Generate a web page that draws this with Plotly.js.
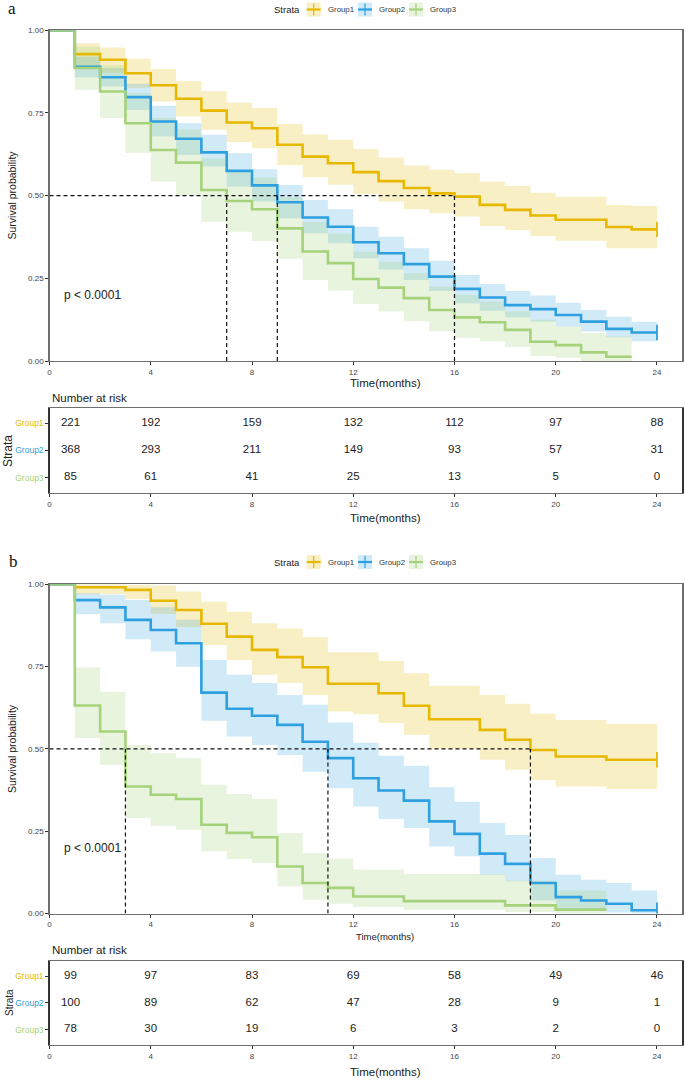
<!DOCTYPE html>
<html>
<head>
<meta charset="utf-8">
<script src="https://cdn.plot.ly/plotly-3.0.1.min.js"></script>
<style>html,body{margin:0;padding:0;background:#fff;}#chart{width:685px;height:1080px;}</style>
</head>
<body>
<div id="chart"></div>
<script>
// ---------------- DATA ----------------
const groups = ["Group1", "Group2", "Group3"];
const months24 = [0,1,2,3,4,5,6,7,8,9,10,11,12,13,14,15,16,17,18,19,20,21,22,23,24];

// Panel a
const survA1 = [1,0.928,0.911,0.870,0.834,0.793,0.757,0.721,0.704,0.654,0.618,0.598,0.571,0.544,0.523,0.507,0.497,0.472,0.457,0.440,0.427,0.427,0.405,0.398,0.398];
const upA1   = [1,0.961,0.948,0.914,0.883,0.847,0.816,0.782,0.765,0.717,0.685,0.669,0.641,0.615,0.591,0.578,0.568,0.543,0.529,0.509,0.497,0.497,0.472,0.469,0.469];
const loA1   = [1,0.891,0.872,0.826,0.785,0.739,0.699,0.662,0.643,0.593,0.556,0.533,0.505,0.482,0.459,0.447,0.437,0.408,0.396,0.378,0.364,0.364,0.341,0.341,0.341];
const survA2 = [1,0.890,0.858,0.798,0.724,0.672,0.631,0.575,0.531,0.480,0.434,0.406,0.359,0.326,0.293,0.255,0.218,0.192,0.169,0.157,0.139,0.119,0.097,0.086,0.086];
const upA2   = [1,0.920,0.886,0.838,0.772,0.719,0.684,0.628,0.580,0.532,0.487,0.459,0.406,0.376,0.341,0.303,0.260,0.233,0.212,0.198,0.176,0.154,0.134,0.119,0.119];
const loA2   = [1,0.858,0.830,0.759,0.679,0.623,0.588,0.527,0.482,0.432,0.386,0.356,0.311,0.277,0.245,0.212,0.175,0.152,0.132,0.119,0.104,0.089,0.072,0.060,0.060];
const survA3 = [1,0.886,0.815,0.719,0.638,0.600,0.517,0.484,0.459,0.401,0.331,0.296,0.248,0.222,0.190,0.154,0.132,0.117,0.094,0.058,0.048,0.026,0.013,0.013];
const upA3   = [1,0.950,0.895,0.810,0.735,0.700,0.612,0.577,0.555,0.495,0.420,0.385,0.330,0.300,0.265,0.225,0.200,0.180,0.150,0.125,0.104,0.085,0.074,0.074];
const loA3   = [1,0.820,0.735,0.630,0.543,0.500,0.421,0.391,0.363,0.309,0.245,0.213,0.172,0.150,0.120,0.090,0.070,0.060,0.042,0.015,0.010,0,0,0];
const mediansA = [16, 9, 7];

// Panel b
const survB1 = [1,0.991,0.991,0.983,0.950,0.922,0.880,0.841,0.801,0.779,0.748,0.698,0.698,0.669,0.631,0.590,0.590,0.558,0.528,0.497,0.477,0.477,0.467,0.467,0.467];
const upB1   = [1,1.000,1.000,0.998,0.996,0.978,0.947,0.917,0.882,0.866,0.839,0.794,0.794,0.767,0.730,0.692,0.692,0.664,0.637,0.607,0.588,0.588,0.576,0.576,0.576];
const loB1   = [1,0.970,0.970,0.955,0.910,0.870,0.816,0.770,0.725,0.700,0.664,0.614,0.605,0.579,0.543,0.500,0.500,0.467,0.437,0.406,0.386,0.386,0.378,0.378,0.378];
const survB2 = [1,0.952,0.930,0.892,0.861,0.821,0.671,0.622,0.601,0.573,0.522,0.472,0.411,0.374,0.343,0.280,0.242,0.182,0.151,0.093,0.050,0.040,0.030,0.010,0.010];
const upB2   = [1,0.973,0.968,0.952,0.930,0.892,0.770,0.725,0.700,0.664,0.634,0.580,0.519,0.479,0.449,0.384,0.340,0.275,0.239,0.169,0.118,0.103,0.093,0.070,0.070];
const loB2   = [1,0.909,0.882,0.833,0.796,0.750,0.586,0.538,0.512,0.482,0.431,0.381,0.325,0.287,0.260,0.204,0.174,0.118,0.098,0.040,0.015,0.008,0.003,0,0];
const survB3 = [1,0.632,0.553,0.386,0.361,0.348,0.270,0.245,0.232,0.143,0.093,0.078,0.052,0.052,0.038,0.038,0.038,0.038,0.025,0.025,0.012,0.012,0.012];
const upB3   = [1,0.747,0.674,0.512,0.487,0.472,0.391,0.363,0.348,0.245,0.184,0.166,0.133,0.133,0.120,0.120,0.120,0.120,0.100,0.100,0.070,0.070,0.070];
const loB3   = [1,0.533,0.452,0.290,0.267,0.255,0.189,0.166,0.154,0.083,0.042,0.030,0.020,0.020,0.012,0.012,0.012,0.012,0.005,0.005,0,0,0];
const mediansB = [19, 11, 3];

// Risk tables
const riskTimes = [0, 4, 8, 12, 16, 20, 24];
const riskA1 = [221, 192, 159, 132, 112, 97, 88];
const riskA2 = [368, 293, 211, 149, 93, 57, 31];
const riskA3 = [85, 61, 41, 25, 13, 5, 0];
const riskB1 = [99, 97, 83, 69, 58, 49, 46];
const riskB2 = [100, 89, 62, 47, 28, 9, 1];
const riskB3 = [78, 30, 19, 6, 3, 2, 0];

const xTicks = [0, 4, 8, 12, 16, 20, 24];
const yTicks = [0, 0.25, 0.5, 0.75, 1];
const yTickText = ["0.00", "0.25", "0.50", "0.75", "1.00"];
const pText = "p < 0.0001";

// ---------------- STYLE ----------------
const W = 685, H = 1080;
const COLORS = ["#E7B800", "#2E9FDF", "#A5D27A"];
const FILLS = ["rgba(231,184,0,0.23)", "rgba(46,159,223,0.22)", "rgba(165,210,122,0.25)"];
const FONT = "Liberation Sans, Arial, sans-serif";
const px = v => v / W;
const py = v => 1 - v / H;

const xDom = [px(49.5), px(682.3)];
const panels = [
  {xa: "x", ya: "y", surv: [survA1, survA2, survA3], up: [upA1, upA2, upA3], lo: [loA1, loA2, loA3], med: mediansA,
   risk: [riskA1, riskA2, riskA3]},
  {xa: "x3", ya: "y3", surv: [survB1, survB2, survB3], up: [upB1, upB2, upB3], lo: [loB1, loB2, loB3], med: mediansB,
   risk: [riskB1, riskB2, riskB3]}
];

const traces = [];
panels.forEach((p, pi) => {
  const tx = pi === 0 ? "x2" : "x4", ty = pi === 0 ? "y2" : "y4";
  for (let g = 0; g < 3; g++) {
    const xs = months24.slice(0, p.surv[g].length);
    traces.push({x: xs, y: p.lo[g], xaxis: p.xa, yaxis: p.ya, type: "scatter", mode: "lines",
      line: {shape: "hv", width: 0, color: "rgba(0,0,0,0)"}, hoverinfo: "skip", showlegend: false});
    traces.push({x: xs, y: p.up[g], xaxis: p.xa, yaxis: p.ya, type: "scatter", mode: "lines", fill: "tonexty",
      fillcolor: FILLS[g], line: {shape: "hv", width: 0, color: "rgba(0,0,0,0)"}, hoverinfo: "skip", showlegend: false});
  }
  for (let g = 0; g < 3; g++) {
    const xs = months24.slice(0, p.surv[g].length);
    traces.push({x: xs, y: p.surv[g], xaxis: p.xa, yaxis: p.ya, type: "scatter", mode: "lines",
      line: {shape: "hv", width: 2.6, color: COLORS[g]}, name: groups[g], showlegend: false});
  }
  for (let g = 0; g < 2; g++) {
    const n = p.surv[g].length - 1;
    traces.push({x: [months24[n]], y: [p.surv[g][n]], xaxis: p.xa, yaxis: p.ya, type: "scatter", mode: "markers",
      marker: {symbol: "line-ns", size: 11, line: {width: 1.8, color: COLORS[g]}}, showlegend: false, hoverinfo: "skip"});
  }
  for (let g = 0; g < 3; g++) {
    traces.push({x: riskTimes.map(t => t === 0 ? 0.83 : t), y: riskTimes.map(() => 3 - g), text: p.risk[g].map(String),
      xaxis: tx, yaxis: ty, type: "scatter", mode: "text", textposition: "middle center",
      textfont: {family: FONT, size: 11.5, color: "#222"}, showlegend: false, hoverinfo: "skip"});
  }
});

function xAxis(domain, anchor) {
  return {domain: domain, anchor: anchor, range: [0, 25], tickvals: xTicks, ticktext: xTicks.map(String),
    ticks: "outside", ticklen: 3, tickwidth: 1, tickcolor: "#333", showline: true, mirror: true,
    linecolor: "#6f6f6f", linewidth: 1.2, showgrid: false, zeroline: false,
    tickfont: {family: FONT, size: 8, color: "#444"}, fixedrange: true};
}
function yAxisSurv(domain, anchor) {
  return {domain: domain, anchor: anchor, range: [0, 1], tickvals: yTicks, ticktext: yTickText,
    ticks: "outside", ticklen: 3, tickwidth: 1, tickcolor: "#333", showline: true, mirror: true,
    linecolor: "#6f6f6f", linewidth: 1.2, showgrid: false, zeroline: false,
    tickfont: {family: FONT, size: 8, color: "#444"}, fixedrange: true};
}
function yAxisTable(domain, anchor, pad) {
  return {domain: domain, anchor: anchor, range: [1 - pad, 3 + pad], tickvals: [3, 2, 1],
    ticktext: groups.map((g, i) => '<span style="color:' + COLORS[i] + '">' + g + '</span>'),
    ticks: "outside", ticklen: 3, tickwidth: 1, tickcolor: "#333", showline: true, mirror: true,
    linecolor: "#333", linewidth: 1.2, showgrid: false, zeroline: false,
    tickfont: {family: FONT, size: 8.5}, fixedrange: true};
}

const layout = {
  width: W, height: H, margin: {l: 0, r: 0, t: 0, b: 0}, paper_bgcolor: "#fff", plot_bgcolor: "#fff",
  showlegend: false, font: {family: FONT},
  xaxis: xAxis(xDom, "y"),
  yaxis: yAxisSurv([py(361), py(30.3)], "x"),
  xaxis2: xAxis(xDom, "y2"),
  yaxis2: yAxisTable([py(492.7), py(408.3)], "x2", 0.56),
  xaxis3: xAxis(xDom, "y3"),
  yaxis3: yAxisSurv([py(913.6), py(584.3)], "x3"),
  xaxis4: xAxis(xDom, "y4"),
  yaxis4: yAxisTable([py(1045), py(960.7)], "x4", 0.58),
  shapes: [], annotations: []
};

// median dashed lines
[["x", "y", mediansA], ["x3", "y3", mediansB]].forEach(([xa, ya, med]) => {
  const maxMed = Math.max.apply(null, med);
  layout.shapes.push({type: "line", xref: xa, yref: ya, x0: 0, x1: maxMed, y0: 0.5, y1: 0.5,
    line: {color: "#111", width: 1.2, dash: "4px,3px"}});
  med.forEach(m => layout.shapes.push({type: "line", xref: xa, yref: ya, x0: m, x1: m, y0: 0, y1: 0.5,
    line: {color: "#111", width: 1.2, dash: "4px,3px"}}));
});

// legends (custom, ggplot-like keys)
const keyX = [306.7, 358, 409];
const labX = [325.5, 376.5, 427.5];
[9.5, 562].forEach(ly => {
  layout.annotations.push({xref: "paper", yref: "paper", x: px(302), y: py(ly), xanchor: "right", yanchor: "middle",
    text: "Strata", showarrow: false, font: {family: FONT, size: 9.5, color: "#222"}});
  for (let g = 0; g < 3; g++) {
    const x0 = keyX[g], x1 = keyX[g] + 14;
    layout.shapes.push({type: "rect", xref: "paper", yref: "paper", x0: px(x0), x1: px(x1), y0: py(ly + 7), y1: py(ly - 7),
      fillcolor: FILLS[g], line: {width: 0}});
    layout.shapes.push({type: "line", xref: "paper", yref: "paper", x0: px(x0), x1: px(x1), y0: py(ly), y1: py(ly),
      line: {color: COLORS[g], width: 2.2}});
    layout.shapes.push({type: "line", xref: "paper", yref: "paper", x0: px(x0 + 7), x1: px(x0 + 7), y0: py(ly + 6), y1: py(ly - 6),
      line: {color: COLORS[g], width: 1.2}});
    layout.annotations.push({xref: "paper", yref: "paper", x: px(labX[g]), y: py(ly), xanchor: "left", yanchor: "middle",
      text: groups[g], showarrow: false, font: {family: FONT, size: 7.8, color: "#333"}});
  }
});

function ann(x, y, text, size, opts) {
  layout.annotations.push(Object.assign({xref: "paper", yref: "paper", x: px(x), y: py(y), text: text, showarrow: false,
    xanchor: "center", yanchor: "middle", font: {family: FONT, size: size, color: "#222"}}, opts || {}));
}
ann(12, 9, "a", 17, {font: {family: "Liberation Serif, Times New Roman, serif", size: 17, color: "#111"}});
ann(13, 561, "b", 17, {font: {family: "Liberation Serif, Times New Roman, serif", size: 17, color: "#111"}});
ann(385, 383.5, "Time(months)", 11.5);
ann(385, 517.5, "Time(months)", 11.5);
ann(385, 936.5, "Time(months)", 9.5);
ann(385, 1071.5, "Time(months)", 11.5);
ann(12, 195.5, "Survival probability", 10.5, {textangle: -90});
ann(12, 749, "Survival probability", 10.5, {textangle: -90});
ann(8, 451, "Strata", 12, {textangle: -90});
ann(9, 1003, "Strata", 10, {textangle: -90});
ann(50, 397.5, "Number at risk", 11.5, {xanchor: "left"});
ann(50, 950, "Number at risk", 11.5, {xanchor: "left"});
layout.annotations.push({xref: "x", yref: "y", x: 0.5, y: 0.2, xanchor: "left", yanchor: "middle", text: pText,
  showarrow: false, font: {family: FONT, size: 12, color: "#222"}});
layout.annotations.push({xref: "x3", yref: "y3", x: 0.5, y: 0.2, xanchor: "left", yanchor: "middle", text: pText,
  showarrow: false, font: {family: FONT, size: 12, color: "#222"}});

Plotly.newPlot("chart", traces, layout, {displayModeBar: false, staticPlot: true});
</script>
</body>
</html>
